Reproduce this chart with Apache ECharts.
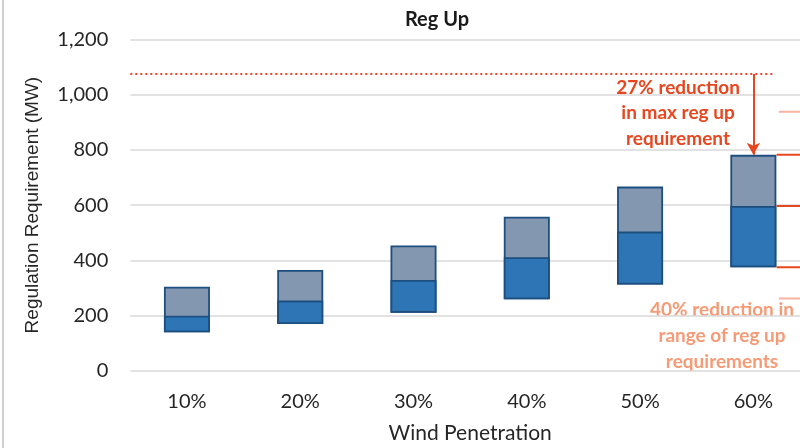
<!DOCTYPE html>
<html>
<head>
<meta charset="utf-8">
<script src="https://cdn.jsdelivr.net/npm/echarts@6/dist/echarts.min.js"></script>
<style>html,body{margin:0;padding:0;background:#fff}#c{width:800px;height:448px}</style>
</head>
<body>
<div id="c"></div>
<script>
var categories = ['10%', '20%', '30%', '40%', '50%', '60%'];
var minVals = [139, 169, 210, 259, 312, 375];
var medVals = [199, 254, 329, 411, 504, 597];
var maxVals = [304, 365, 454, 558, 667, 782];
var yTicks = [0, 200, 400, 600, 800, 1000, 1200];
var prevMax = 1075;
var prevRange = [262, 938];

var lowerSeg = medVals.map(function (m, i) { return m - minVals[i]; });
var fullSeg = maxVals.map(function (m, i) { return m - minVals[i]; });

var FONT = 'Lato';
var chart = echarts.init(document.getElementById('c'));
var last = categories.length - 1;
var lastCenter = last + 0.5;
var barHalf = 0.205;

function seg(y, x0, x1, color, width) {
  return {
    type: 'line', xAxisIndex: 1, yAxisIndex: 0, silent: true, symbol: 'none',
    data: [[x0, y], [x1, y]],
    lineStyle: { color: color, width: width }, z: 3
  };
}

var series = [
  { name: 'baseA', type: 'bar', stack: 'a', data: minVals, barWidth: 46,
    itemStyle: { color: 'rgba(0,0,0,0)' }, silent: true },
  { name: 'full', type: 'bar', stack: 'a', data: fullSeg, barWidth: 46,
    itemStyle: { color: '#8497B0', borderColor: '#1C4E80', borderWidth: 1.8 } },
  { name: 'baseB', type: 'bar', stack: 'b', data: minVals, barWidth: 46, barGap: '-100%',
    itemStyle: { color: 'rgba(0,0,0,0)' }, silent: true },
  { name: 'lower', type: 'bar', stack: 'b', data: lowerSeg, barWidth: 46, barGap: '-100%',
    itemStyle: { color: '#2E75B6', borderColor: '#1C4E80', borderWidth: 1.8 } },
  { type: 'line', xAxisIndex: 1, yAxisIndex: 0, silent: true, symbol: 'none',
    data: [[0, prevMax], [5.68, prevMax]],
    lineStyle: { color: '#F0442A', width: 2, type: [2, 3] }, z: 3,
    markLine: {
      silent: true, symbol: ['none', 'arrow'], symbolSize: [10, 12],
      label: { show: false },
      lineStyle: { color: '#E8461E', width: 2, type: 'solid' },
      data: [[{ coord: [lastCenter, prevMax] }, { coord: [lastCenter, maxVals[last]] }]]
    }
  },
  seg(maxVals[last], lastCenter + barHalf, 6, '#E8461E', 2),
  seg(medVals[last], lastCenter + barHalf, 6, '#E8461E', 2),
  seg(minVals[last], lastCenter + barHalf, 6, '#E8461E', 2),
  seg(prevRange[1], lastCenter + barHalf + 0.02, 6, '#F7B3A0', 2),
  seg(prevRange[0], lastCenter + barHalf + 0.02, 6, '#F7B3A0', 2)
];

chart.setOption({
  animation: false,
  textStyle: { fontFamily: FONT },
  grid: { left: 130.3, right: -10, top: 39.5, bottom: 77.3, containLabel: false, outerBoundsMode: 'none' },
  xAxis: [
    { type: 'category', data: categories,
      axisLine: { show: false }, axisTick: { show: false },
      axisLabel: { color: '#262626', fontSize: 20, margin: 21, fontFamily: FONT },
      name: 'Wind Penetration', nameLocation: 'middle', nameGap: 52,
      nameTextStyle: { color: '#262626', fontSize: 21, fontFamily: FONT } },
    { type: 'value', min: 0, max: 6, show: false }
  ],
  yAxis: {
    type: 'value', min: yTicks[0], max: yTicks[yTicks.length - 1], interval: 200,
    axisLine: { show: false }, axisTick: { show: false },
    splitLine: { lineStyle: { color: '#D9D9D9', width: 1.5 } },
    axisLabel: { color: '#262626', fontSize: 20, margin: 22, fontFamily: FONT,
      formatter: function (v) { return v.toLocaleString('en-US'); } },
    name: 'Regulation Requirement (MW)', nameLocation: 'middle', nameGap: 88, nameRotate: 90,
    nameTextStyle: { color: '#262626', fontSize: 19, fontFamily: 'Liberation Sans' }
  },
  series: series,
  graphic: [
    { type: 'line', shape: { x1: 3, y1: 0, x2: 3, y2: 448 }, style: { stroke: '#BFBFBF', lineWidth: 1.5 } },
    { type: 'text', x: 437, y: 20,
      style: { text: 'Reg Up', fill: '#1a1a1a', font: 'bold 20px Lato',
        textAlign: 'center', textVerticalAlign: 'middle' } },
    { type: 'text', x: 678, y: 75,
      style: { text: '27% reduction\nin max reg up\nrequirement', fill: '#E8461E', font: 'bold 19px Lato',
        textAlign: 'center', textVerticalAlign: 'top', lineHeight: 25.5 } },
    { type: 'text', x: 722, y: 297,
      style: { text: '40% reduction in\nrange of reg up\nrequirements', fill: '#F79A76', font: 'bold 19px Lato',
        textAlign: 'center', textVerticalAlign: 'top', lineHeight: 26 } }
  ]
});
</script>
</body>
</html>
